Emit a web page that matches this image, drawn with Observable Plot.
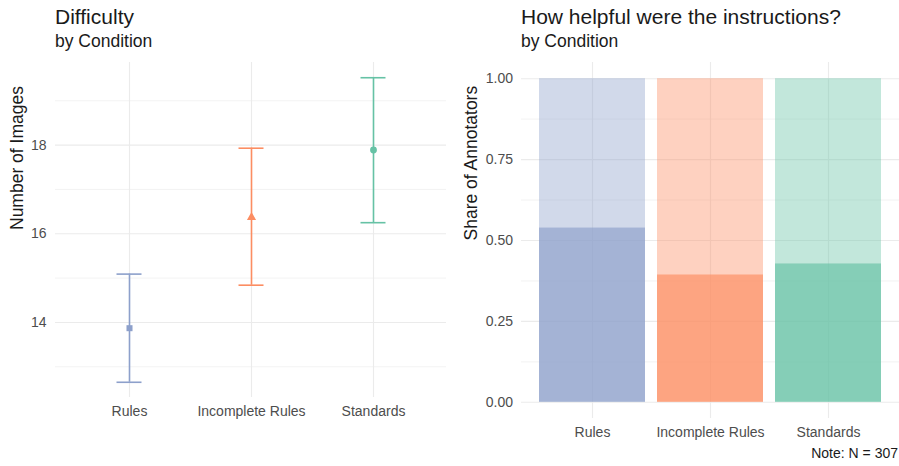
<!DOCTYPE html>
<html>
<head>
<meta charset="utf-8">
<script src="https://cdn.jsdelivr.net/npm/d3@7"></script>
<script src="https://cdn.jsdelivr.net/npm/@observablehq/plot@0.6"></script>
<style>
  html, body { margin: 0; padding: 0; background: white; }
  #wrap { position: relative; width: 899px; height: 466px; overflow: hidden; font-family: "Liberation Sans", Arial, Helvetica, sans-serif; }
  .panel { position: absolute; top: 0; }
  .title { position: absolute; font-size: 21px; line-height: 21px; color: #1a1a1a; white-space: nowrap; }
  .subtitle { position: absolute; font-size: 17.5px; line-height: 17.5px; color: #1a1a1a; white-space: nowrap; }
  .caption { position: absolute; font-size: 14px; line-height: 14px; color: #1a1a1a; white-space: nowrap; }
</style>
</head>
<body>
<div id="wrap">
  <div id="left" class="panel" style="left:0px"></div>
  <div id="right" class="panel" style="left:450px"></div>
  <div class="title" style="left:55px; top:5.7px">Difficulty</div>
  <div class="subtitle" style="left:55px; top:33.2px">by Condition</div>
  <div class="title" style="left:521px; top:5.7px">How helpful were the instructions?</div>
  <div class="subtitle" style="left:521px; top:33.2px">by Condition</div>
  <div class="caption" style="right:1px; top:446px">Note: N = 307</div>
</div>
<script>
// ---- data ----
const conditions = ["Rules", "Incomplete Rules", "Standards"];
const conditionColors = ["#8DA0CB", "#FC8D62", "#66C2A5"];
const conditionSymbols = ["square", "triangle", "circle"];
const meanImages = [13.87, 16.37, 17.89];
const lowerImages = [12.65, 14.84, 16.25];
const upperImages = [15.09, 17.93, 19.52];
const helpfulShare = [0.539, 0.394, 0.428];
const imageTicks = [14, 16, 18];
const imageMinorTicks = [13, 15, 17, 19];
const shareTicks = [0, 0.25, 0.5, 0.75, 1];
const shareMinorTicks = [0.125, 0.375, 0.625, 0.875];

const FONT = '"Liberation Sans", Arial, Helvetica, sans-serif';
const GRID = "#EBEBEB";

const difficulty = conditions.map((c, i) => ({
  condition: c, color: conditionColors[i], symbol: conditionSymbols[i],
  mean: meanImages[i], lo: lowerImages[i], hi: upperImages[i]
}));
const helpful = conditions.map((c, i) => ({
  condition: c, color: conditionColors[i], share: helpfulShare[i]
}));

// ggplot-like 5% expansion of the continuous y scale
const yMin = d3.min(lowerImages), yMax = d3.max(upperImages);
const yPad = (yMax - yMin) * 0.05;

const left = Plot.plot({
  width: 450, height: 466,
  marginTop: 62, marginBottom: 69, marginLeft: 55, marginRight: 4,
  style: {fontFamily: FONT, fontSize: "14px", color: "#4D4D4D", background: "white", overflow: "visible"},
  x: {type: "band", domain: conditions, paddingInner: 0.1, paddingOuter: 0.15},
  y: {domain: [yMin - yPad, yMax + yPad]},
  color: {type: "identity"},
  marks: [
    Plot.ruleY(imageMinorTicks, {stroke: GRID, strokeWidth: 0.6}),
    Plot.ruleY(imageTicks, {stroke: GRID, strokeWidth: 1.1}),
    Plot.ruleX(conditions, {x: d => d, stroke: GRID, strokeWidth: 1.1}),
    Plot.ruleX(difficulty, {x: "condition", y1: "lo", y2: "hi", stroke: "color", strokeWidth: 1.6}),
    Plot.tickY(difficulty, {x: "condition", y: "lo", stroke: "color", strokeWidth: 1.6, insetLeft: 42.5, insetRight: 42.5}),
    Plot.tickY(difficulty, {x: "condition", y: "hi", stroke: "color", strokeWidth: 1.6, insetLeft: 42.5, insetRight: 42.5}),
    Plot.dot(difficulty, {x: "condition", y: "mean", symbol: "symbol", fill: "color", r: 3.4}),
    Plot.axisX({tickSize: 0, tickPadding: 8.5, label: null}),
    Plot.axisY({ticks: imageTicks, tickSize: 0, tickPadding: 9, label: null}),
    Plot.text(["Number of Images"], {text: d => d, frameAnchor: "left", dx: -38.3, rotate: -90, fontSize: 17.5, fill: "#1a1a1a"})
  ]
});
document.getElementById("left").appendChild(left);

const right = Plot.plot({
  width: 449, height: 466,
  marginTop: 62, marginBottom: 48, marginLeft: 71, marginRight: 0,
  style: {fontFamily: FONT, fontSize: "14px", color: "#4D4D4D", background: "white", overflow: "visible"},
  x: {type: "band", domain: conditions, paddingInner: 0.1, paddingOuter: 0.15},
  y: {domain: [-0.05, 1.05]},
  color: {type: "identity"},
  marks: [
    Plot.ruleY(shareMinorTicks, {stroke: GRID, strokeWidth: 0.6}),
    Plot.ruleY(shareTicks, {stroke: GRID, strokeWidth: 1.1}),
    Plot.ruleX(conditions, {x: d => d, stroke: GRID, strokeWidth: 1.1}),
    Plot.barY(helpful, {x: "condition", y1: "share", y2: () => 1, fill: "color", fillOpacity: 0.4}),
    Plot.barY(helpful, {x: "condition", y1: () => 0, y2: "share", fill: "color", fillOpacity: 0.8}),
    Plot.axisX({tickSize: 0, tickPadding: 8.5, label: null}),
    Plot.axisY({ticks: shareTicks, tickFormat: d3.format(".2f"), tickSize: 0, tickPadding: 8.5, label: null}),
    Plot.text(["Share of Annotators"], {text: d => d, frameAnchor: "left", dx: -50.2, rotate: -90, fontSize: 17.5, fill: "#1a1a1a"})
  ]
});
document.getElementById("right").appendChild(right);
</script>
</body>
</html>
